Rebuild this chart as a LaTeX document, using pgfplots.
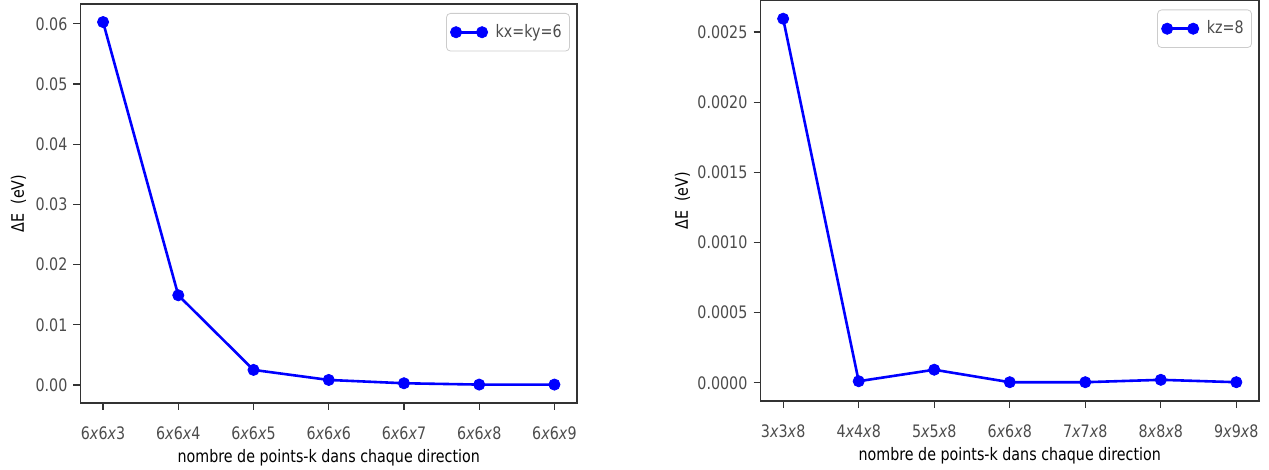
\documentclass[border=0pt]{standalone}
\usepackage{fontspec}
\setmainfont{DejaVu Sans}[FakeStretch=0.83]
\usepackage{pgfplots}
\pgfplotsset{compat=1.18}
\definecolor{txt}{gray}{0.3}
\definecolor{axc}{gray}{0.2}
\begin{document}
\fontsize{8.6pt}{10pt}\selectfont
\begin{tikzpicture}
\useasboundingbox (0,0) rectangle (634.5pt,-235pt);
\pgfplotsset{
  myax/.style={
    scale only axis,
    anchor=north west,
    xmin=-0.3, xmax=6.3,
    xtick={0,1,2,3,4,5,6},
    scaled y ticks=false,
    /pgf/number format/assume math mode=true,
    tick align=outside,
    xtick pos=bottom, ytick pos=left,
    major tick length=3.5pt,
    axis line style={axc, line width=0.6pt},
    tick style={axc, line width=0.6pt},
    ticklabel style={font=\fontsize{8.6pt}{10pt}\selectfont, text=txt},
    xticklabel style={yshift=-5.5pt},
    label style={font=\fontsize{8.6pt}{10pt}\selectfont, text=txt},
    every axis x label/.style={at={(rel axis cs:0.5,0)}, yshift=-27.5pt, anchor=center},
    xlabel={nombre de points-k dans chaque direction},
    ylabel={ΔE\ \ (eV)},
    legend style={at={(rel axis cs:1,1)}, anchor=north east, xshift=-3.5pt, yshift=-4.5pt,
      draw=black!20, rounded corners=2pt, fill=white,
      font=\fontsize{8.6pt}{10pt}\selectfont, text=txt,
      inner xsep=2pt, inner ysep=3.5pt, cells={anchor=west}},
    legend image code/.code={\draw[#1] plot coordinates {(0pt,0pt) (13pt,0pt)};},
  },
  myplot/.style={blue, line width=1.3pt, mark=*, mark size=2.8pt, mark options={fill=blue, draw=blue, line width=0.4pt}},
}
\begin{axis}[myax,
  at={(40.25pt,-2pt)}, width=248.25pt, height=199.5pt,
  every axis y label/.style={at={(rel axis cs:0,0.5)}, xshift=-31pt, rotate=90, anchor=center},
  ymin=-0.003, ymax=0.0633,
  ytick={0,0.01,0.02,0.03,0.04,0.05,0.06},
  yticklabel style={/pgf/number format/.cd, fixed, fixed zerofill, precision=2},
  xticklabels={6\textit{x}6\textit{x}3, 6\textit{x}6\textit{x}4, 6\textit{x}6\textit{x}5, 6\textit{x}6\textit{x}6, 6\textit{x}6\textit{x}7, 6\textit{x}6\textit{x}8, 6\textit{x}6\textit{x}9},
]
\addplot[myplot] coordinates {(0,0.0603) (1,0.0149) (2,0.0025) (3,0.00083) (4,0.00028) (5,0.00006) (6,0.00006)};
\addlegendentry{\hspace{2pt}kx=ky=6}
\end{axis}
\begin{axis}[myax,
  at={(380.25pt,-0.25pt)}, width=249.25pt, height=200.25pt,
  every axis y label/.style={at={(rel axis cs:0,0.5)}, xshift=-39pt, rotate=90, anchor=center},
  ymin=-0.00013, ymax=0.002725,
  ytick={0,0.0005,0.001,0.0015,0.002,0.0025},
  yticklabel style={/pgf/number format/.cd, fixed, fixed zerofill, precision=4},
  xticklabels={3\textit{x}3\textit{x}8, 4\textit{x}4\textit{x}8, 5\textit{x}5\textit{x}8, 6\textit{x}6\textit{x}8, 7\textit{x}7\textit{x}8, 8\textit{x}8\textit{x}8, 9\textit{x}9\textit{x}8},
]
\addplot[myplot] coordinates {(0,0.002595) (1,0.000011) (2,0.000093) (3,0.000004) (4,0.000004) (5,0.000021) (6,0.000004)};
\addlegendentry{\hspace{2pt}kz=8}
\end{axis}
\end{tikzpicture}
\end{document}
